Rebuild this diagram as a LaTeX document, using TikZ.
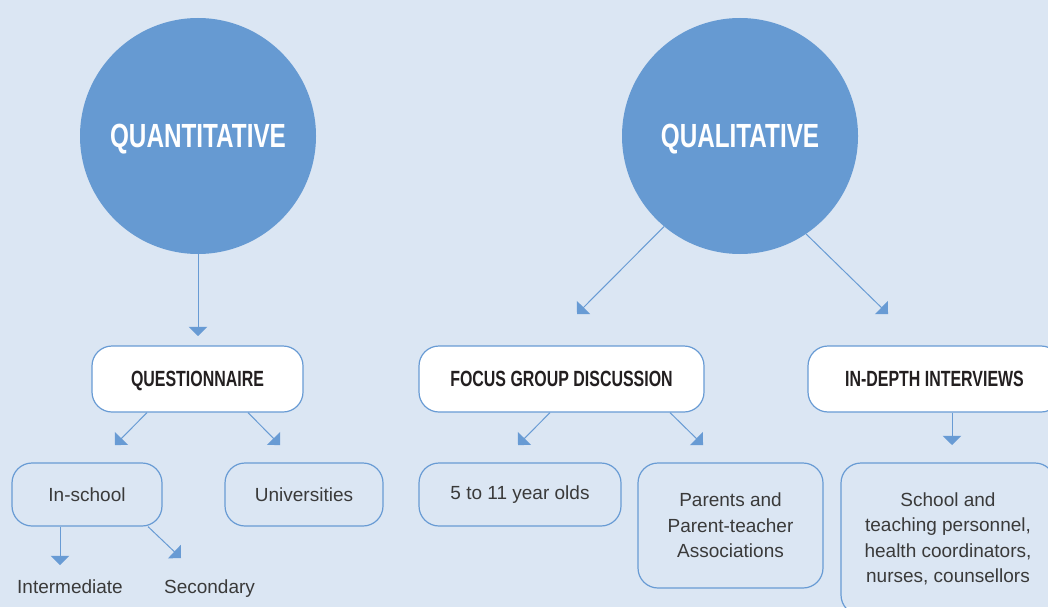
\documentclass[tikz,border=0pt]{standalone}
\usepackage{fontspec}
\setmainfont{Liberation Sans}
\newfontfamily\condfont[FakeStretch=0.725]{Liberation Sans}
\usetikzlibrary{arrows.meta}
\definecolor{bg}{RGB}{219,230,243}
\definecolor{circ}{RGB}{102,154,210}
\definecolor{edge}{RGB}{104,155,212}
\definecolor{txt}{RGB}{35,31,32}
\definecolor{stxt}{RGB}{58,58,58}
\tikzset{
  bigcirc/.style={circle, fill=circ, minimum size=236pt, inner sep=0pt, text=white,
    text depth=0pt, font=\condfont\bfseries\fontsize{33.5}{36}\selectfont},
  mainbox/.style={draw=edge, line width=1.2pt, fill=white, rounded corners=20pt,
    minimum height=66pt, inner sep=0pt, text=txt, text depth=0pt,
    font=\condfont\bfseries\fontsize{22}{26}\selectfont},
  subbox/.style={draw=edge, line width=1.2pt, rounded corners=20pt, inner sep=0pt,
    align=center, text=stxt, font=\fontsize{19}{25.5}\selectfont},
  plain/.style={inner sep=0pt, anchor=base, text=stxt, font=\fontsize{19}{25.5}\selectfont},
  arr/.style={draw=edge, line width=1pt, -{Triangle[length=9.2pt,width=18.4pt]}},
}
\begin{document}
\begin{tikzpicture}[x=1pt,y=-1pt]
\useasboundingbox (0,0) rectangle (1048,607);
\clip (0,0) rectangle (1048,607);
\fill[bg] (0,0) rectangle (1048,607);

% circles
\node[bigcirc] (quant) at (198,136) {QUANTITATIVE};
\node[bigcirc] (qual) at (740,136) {QUALITATIVE};

% main boxes
\node[mainbox, minimum width=211pt] (quest) at (197.5,379) {QUESTIONNAIRE};
\node[mainbox, minimum width=285pt] (fgd) at (561.5,379) {FOCUS GROUP DISCUSSION};
\node[mainbox, minimum width=253pt] (idi) at (934.5,379) {IN-DEPTH INTERVIEWS};

% sub boxes
\node[subbox, minimum width=150pt, minimum height=63pt] (ins) at (87,494.5) {In-school};
\node[subbox, minimum width=158pt, minimum height=63pt] (uni) at (304,494.5) {Universities};
\node[subbox, minimum width=202pt, minimum height=63pt] (kids) at (520,494.5) {5 to 11 year olds};
\node[subbox, minimum width=185pt, minimum height=125pt] (par) at (730.5,525.5) {Parents and\\Parent-teacher\\Associations};
\node[subbox, minimum width=214pt, minimum height=152pt] (staff) at (948,539) {School and\\teaching personnel,\\health coordinators,\\nurses, counsellors};

% plain labels
\node[plain] (inter) at (70,593) {Intermediate};
\node[plain] (sec) at (209.5,593) {Secondary};

% arrow tips
\coordinate (t0) at (198,336);
\coordinate (t1) at (577,314);
\coordinate (t2) at (888,314);
\coordinate (t3) at (115,445);
\coordinate (t4) at (280,445);
\coordinate (t5) at (518,445);
\coordinate (t6) at (703,445);
\coordinate (t7) at (952,445);
\coordinate (t8) at (60,565);
\coordinate (t9) at (181,558);

% connectors
\draw[arr] (quant) -- (t0);
\draw[arr] (qual.230.5) -- (t1);
\draw[arr] (qual.304.6) -- (t2);
\draw[arr] ([xshift=-50.5pt]quest.south) -- (t3);
\draw[arr] ([xshift=50.5pt]quest.south) -- (t4);
\draw[arr] ([xshift=-11.5pt]fgd.south) -- (t5);
\draw[arr] ([xshift=108.5pt]fgd.south) -- (t6);
\draw[arr] ([xshift=17.5pt]idi.south) -- (t7);
\draw[arr] ([xshift=-27pt]ins.south) -- (t8);
\draw[arr] ([xshift=61pt]ins.south) -- (t9);
\end{tikzpicture}
\end{document}
